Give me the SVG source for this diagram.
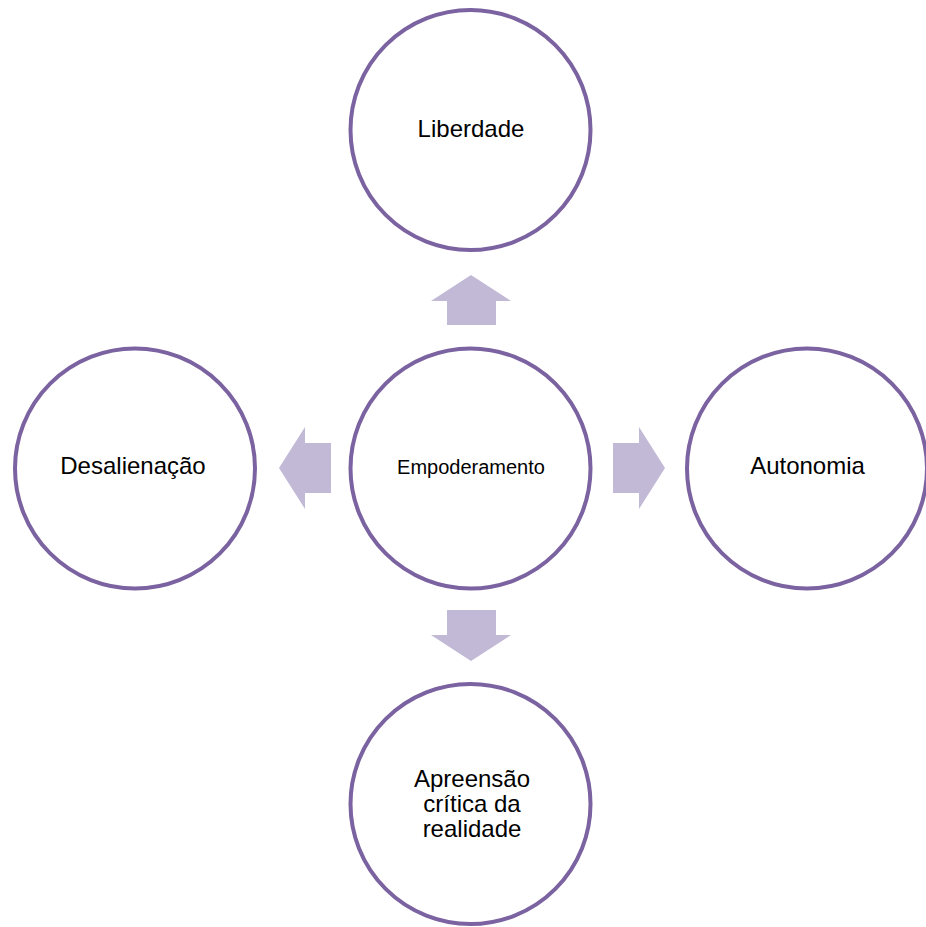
<svg xmlns="http://www.w3.org/2000/svg" width="926" height="927" viewBox="0 0 926 927">
<style>
.node{fill:#FFFFFF;stroke:#7B62A0;stroke-width:4}
.lbl{font-family:"Liberation Sans",Arial,sans-serif;font-size:24px;fill:#000000;text-anchor:middle}
.small{font-size:20px}
.arr{fill:#C1B9D5;stroke:none}
</style>
<rect width="926" height="927" fill="#FFFFFF"/>
<g id="connectors">
<polygon class="arr" points="471,275 511,301 496,301 496,325 447,325 447,301 431,301"/>
<polygon class="arr" points="471,661 511,635 496,635 496,610 447,610 447,635 431,635"/>
<polygon class="arr" points="279,468 305,427 305,443 331,443 331,493 305,493 305,509"/>
<polygon class="arr" points="665,468 639,427 639,443 613,443 613,493 639,493 639,509"/>
</g>
<g id="node-liberdade">
<circle class="node" cx="470.5" cy="130" r="120"/>
<text class="lbl" x="471" y="137">Liberdade</text>
</g>
<g id="node-empoderamento">
<circle class="node" cx="470.5" cy="468.5" r="120"/>
<text class="lbl small" x="471" y="474">Empoderamento</text>
</g>
<g id="node-desalienacao">
<circle class="node" cx="135" cy="468.5" r="120"/>
<text class="lbl" x="133" y="474">Desalienação</text>
</g>
<g id="node-autonomia">
<circle class="node" cx="807" cy="468.5" r="120"/>
<text class="lbl" x="807.5" y="474">Autonomia</text>
</g>
<g id="node-apreensao">
<circle class="node" cx="470.5" cy="804" r="120"/>
<text class="lbl" x="472" y="787">Apreensão</text>
<text class="lbl" x="472" y="812">crítica da</text>
<text class="lbl" x="472" y="837">realidade</text>
</g>
</svg>
